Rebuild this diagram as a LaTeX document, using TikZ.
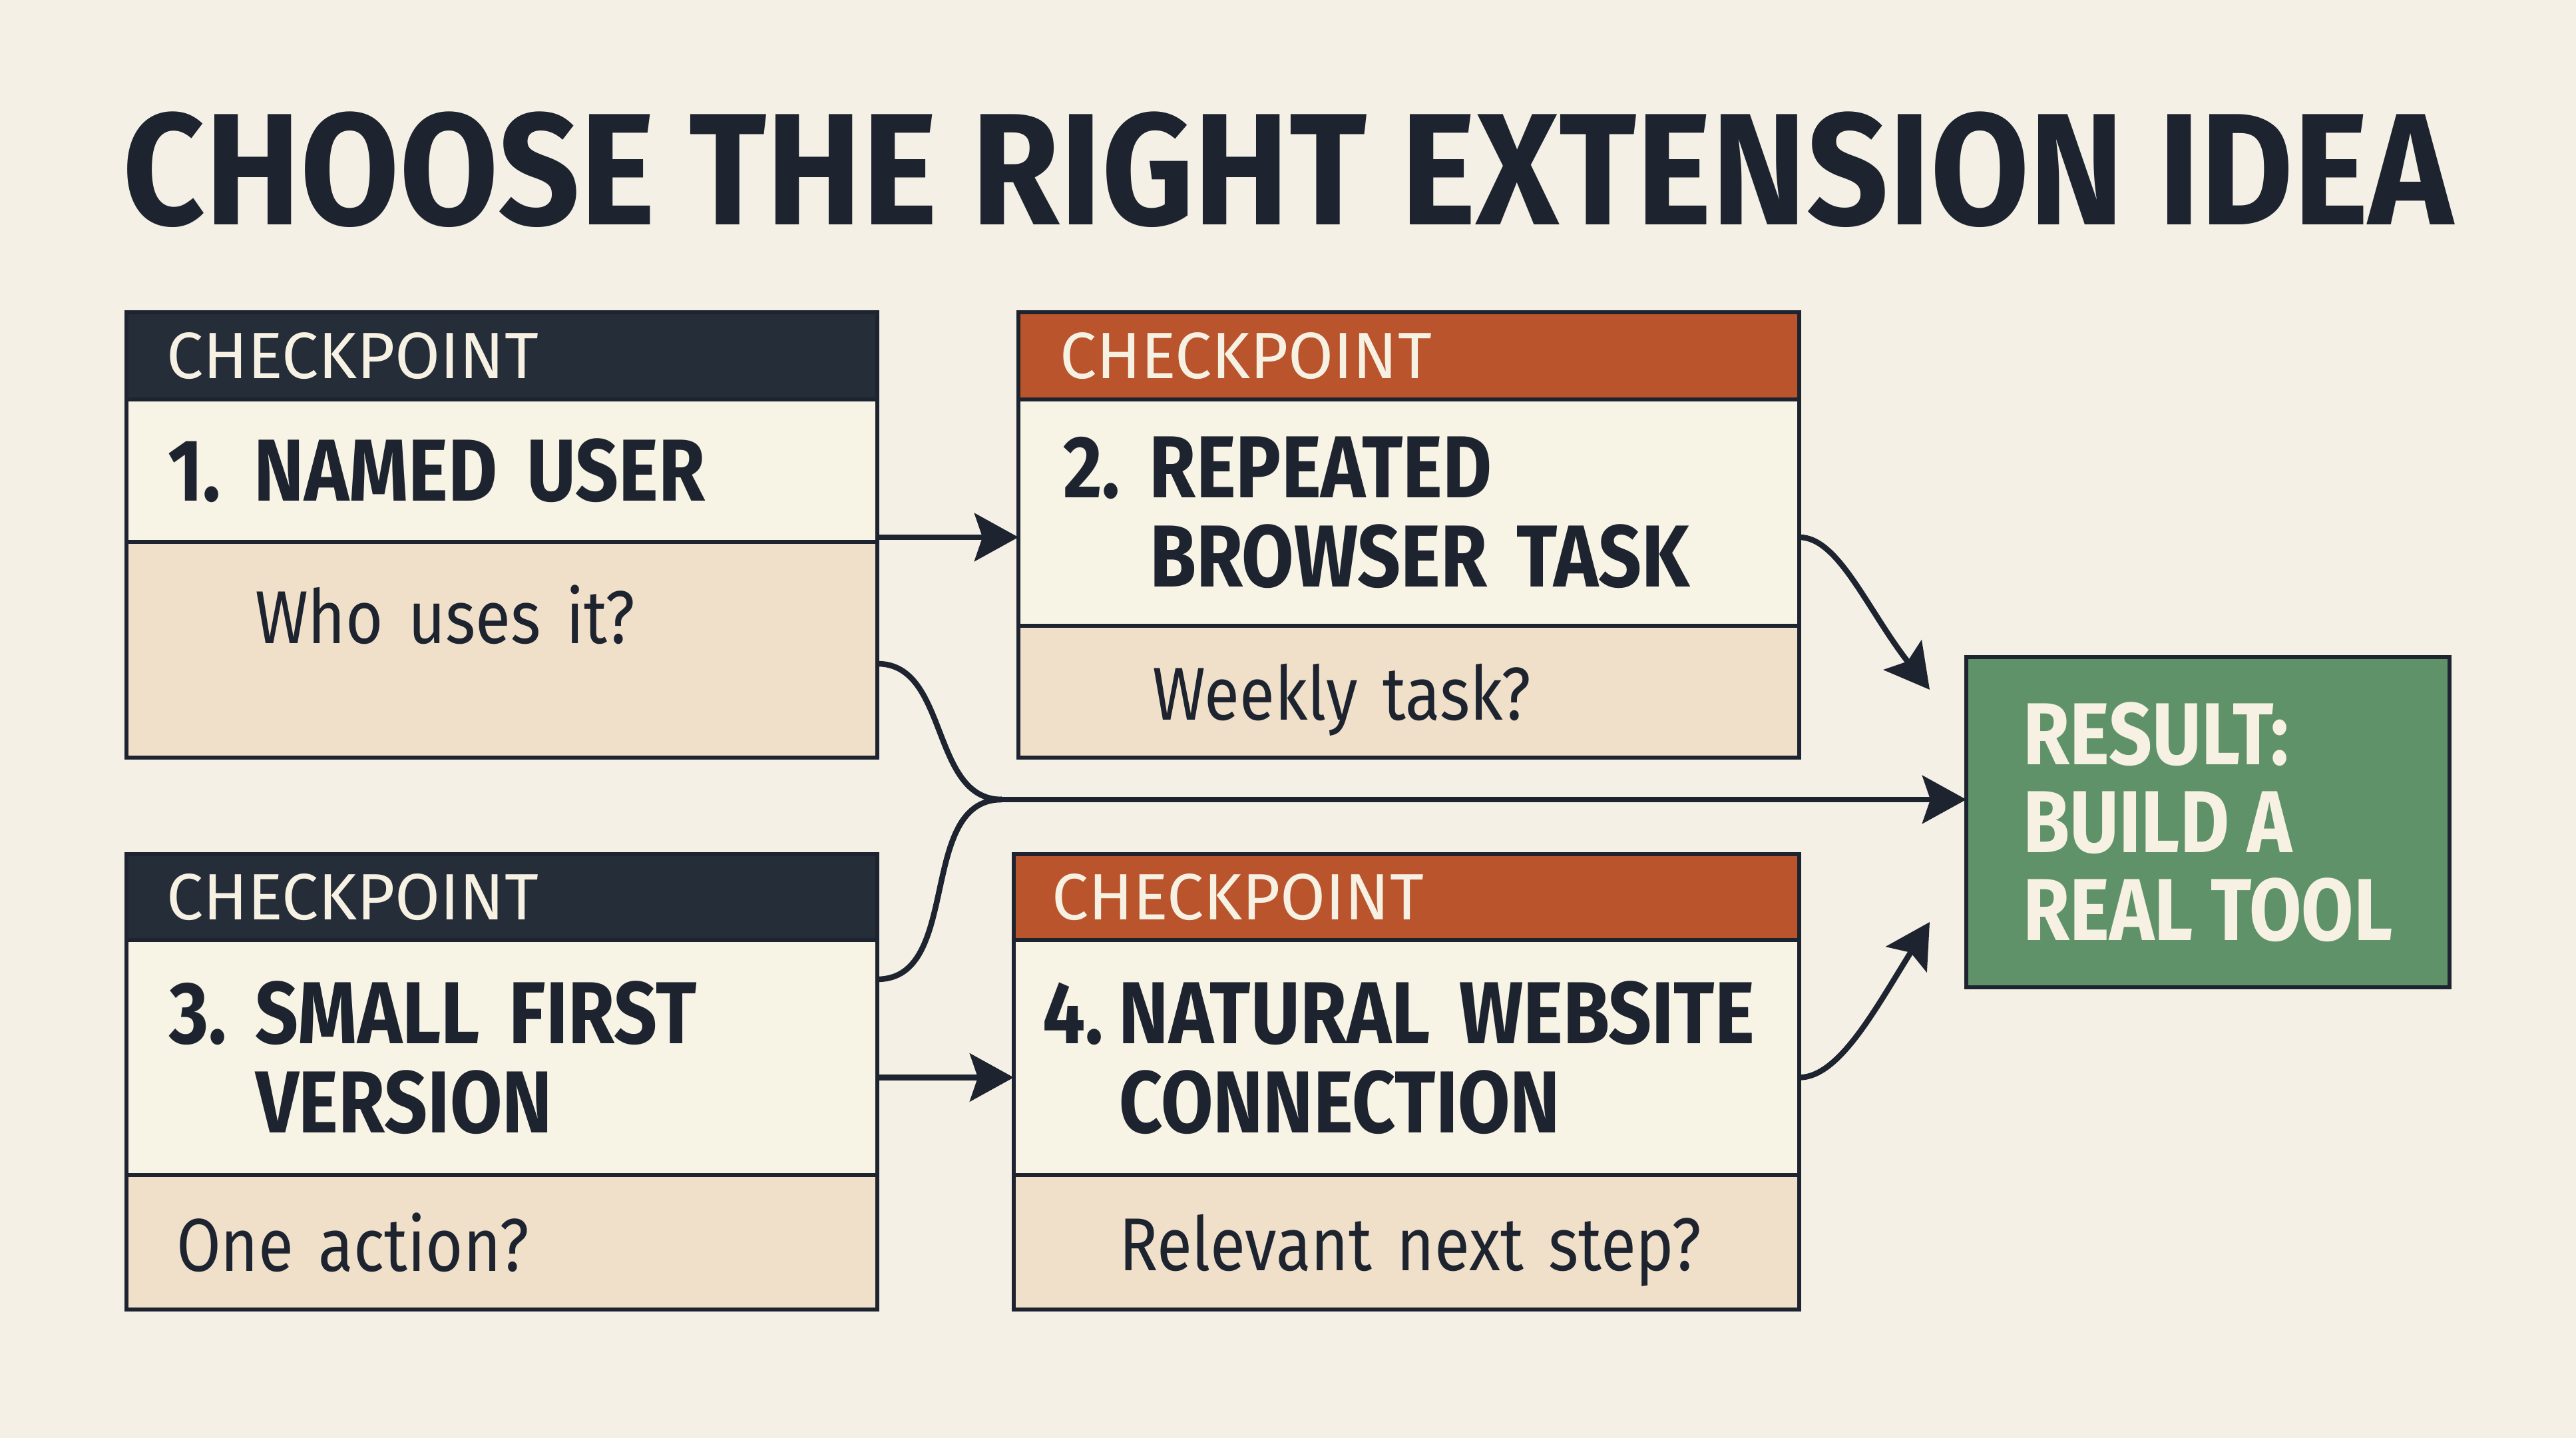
\documentclass[tikz,border=0pt]{standalone}
\usepackage{fontspec}
\setmainfont{Fira Sans}[FakeStretch=0.86]
\newfontfamily\hdrfont{Fira Sans}
\newfontfamily\headfont{Fira Sans}[FakeStretch=0.9]
\usetikzlibrary{arrows.meta,positioning}

\definecolor{paper}{HTML}{F4F0E6}
\definecolor{ink}{HTML}{1D242F}
\definecolor{navy}{HTML}{252D39}
\definecolor{rust}{HTML}{B9542C}
\definecolor{cream}{HTML}{F7F3E5}
\definecolor{sand}{HTML}{F0E0C9}
\definecolor{sage}{HTML}{60926A}
\definecolor{lighttext}{HTML}{F6F1E2}

% number with hanging indent
\newcommand{\cpnum}[2][1.3cm]{\makebox[#1][l]{#2}}

\begin{document}
\begin{tikzpicture}[
  band/.style={draw=ink, line width=0.055cm, outer sep=0pt, inner ysep=0.1cm, align=left, anchor=north west},
  hdr/.style={band, minimum height=1.31cm, text=lighttext, font=\hdrfont\fontsize{28}{30}\selectfont},
  ttl/.style={band, fill=cream, text=ink, font=\bfseries\fontsize{37.6}{38}\selectfont},
  qst/.style={band, fill=sand, text=ink, text depth=0pt, font=\fontsize{32}{34}\selectfont},
  wire/.style={draw=ink, line width=0.085cm},
  conn/.style={wire, -{Stealth[length=0.66cm, width=0.72cm, inset=0.12cm]}}
]
\path[use as bounding box, fill=paper] (0,0) rectangle (38.7,21.6);

\node (heading) [anchor=base, text=ink, font=\headfont\bfseries\fontsize{68}{70}\selectfont] at (19.35,18.22) {CHOOSE THE RIGHT EXTENSION IDEA};

% checkpoint 1
\node (h1) [hdr, fill=navy, text width=10.08cm, inner xsep=0.6cm] at (1.90,16.91) {CHECKPOINT};
\node (t1) [ttl, below=0pt of h1, text width=10.04cm, inner xsep=0.62cm, minimum height=2.14cm] {\cpnum{1.}NAMED USER};
\node (q1) [qst, below=0pt of t1, text width=7.42cm, inner xsep=1.93cm, minimum height=3.24cm, text depth=1.06cm] {Who uses it?};

% checkpoint 2
\node (h2) [hdr, fill=rust, text width=10.49cm, inner xsep=0.62cm] at (15.30,16.91) {CHECKPOINT};
\node (t2) [ttl, below=0pt of h2, text width=10.39cm, inner xsep=0.67cm, minimum height=3.40cm] {\cpnum{2.}REPEATED\\\cpnum{}BROWSER TASK};
\node (q2) [qst, below=0pt of t2, text width=7.71cm, inner xsep=2.01cm, minimum height=1.98cm] {Weekly task?};

% checkpoint 3
\node (h3) [hdr, fill=navy, text width=10.08cm, inner xsep=0.6cm, minimum height=1.29cm] at (1.90,8.77) {CHECKPOINT};
\node (t3) [ttl, below=0pt of h3, text width=10.00cm, inner xsep=0.64cm, minimum height=3.53cm] {\cpnum{3.}SMALL FIRST\\\cpnum{}VERSION};
\node (q3) [qst, below=0pt of t3, text width=9.78cm, inner xsep=0.75cm, minimum height=2.02cm] {One action?};

% checkpoint 4
\node (h4) [hdr, fill=rust, text width=10.66cm, inner xsep=0.57cm, minimum height=1.29cm] at (15.23,8.77) {CHECKPOINT};
\node (t4) [ttl, below=0pt of h4, text width=10.94cm, inner xsep=0.43cm, minimum height=3.53cm] {\cpnum[1.15cm]{4.}NATURAL WEBSITE\\\cpnum[1.15cm]{}CONNECTION};
\node (q4) [qst, below=0pt of t4, text width=9.40cm, inner xsep=1.20cm, minimum height=2.02cm] {\hspace*{0.38cm}Relevant next step?};

% result
\node (res) [band, fill=sage, minimum width=7.26cm, minimum height=4.96cm, text=lighttext, font=\bfseries\fontsize{37.6}{37.5}\selectfont] at (29.54,11.73) {RESULT:\\BUILD A\\REAL TOOL};

\coordinate (mrg) at (15.05,9.59);

\draw[conn] ([yshift=0.07cm]t1.south east) -- ([yshift=0.07cm]t1.south east -| t2.west);
\draw[conn] ([yshift=-0.3cm]t3.east) -- ([yshift=-0.3cm]t4.west);
\draw[wire] ([yshift=-0.21cm]q1.east) to[out=0,in=180] (mrg);
\draw[wire] ([yshift=-0.59cm]t3.north east) to[out=0,in=180] (mrg);
\draw[conn] (mrg) -- (mrg -| res.west);
\draw[conn] ([yshift=0.07cm]t1.south east -| t2.east) to[out=0,in=128,out looseness=0.5,in looseness=1.3] ([xshift=-0.55cm,yshift=-0.49cm]res.north west);
\draw[conn] ([yshift=-0.3cm]t4.east) to[out=0,in=-122,out looseness=0.5,in looseness=1.3] ([xshift=-0.55cm,yshift=0.98cm]res.south west);
\end{tikzpicture}
\end{document}
